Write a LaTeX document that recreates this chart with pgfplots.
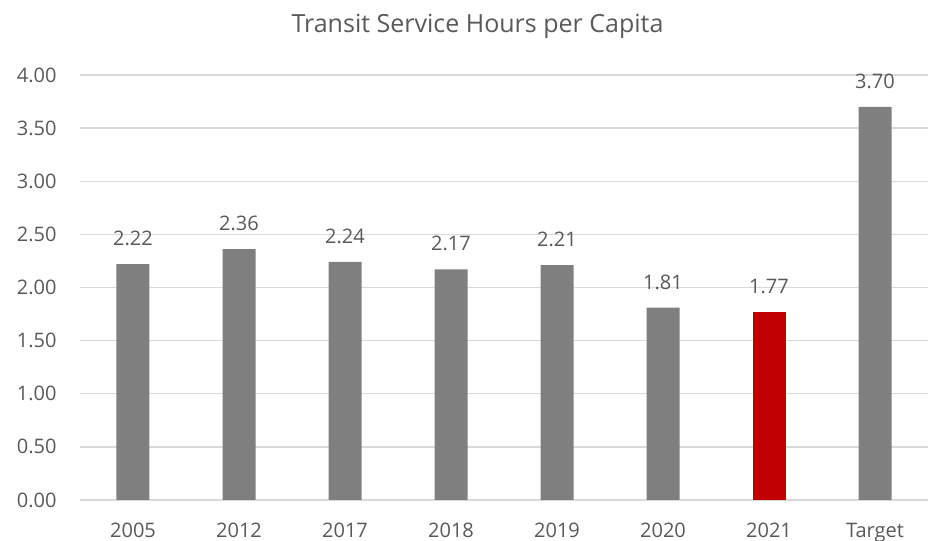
\documentclass[border=0pt]{standalone}
\usepackage{pgfplots}
\pgfplotsset{compat=1.18}
\usepackage{fontspec}
\setmainfont{Open Sans}
\definecolor{barg}{HTML}{7F7F7F}
\definecolor{barr}{HTML}{C00000}
\definecolor{gridc}{HTML}{D9D9D9}
\definecolor{txt}{HTML}{595959}
\begin{document}
\begin{tikzpicture}
\path[use as bounding box] (-80pt,-41pt) rectangle (850pt,500pt);
\begin{axis}[
  at={(0,0)}, anchor=south west,
  scale only axis, width=848pt, height=425pt,
  xmin=-0.5, xmax=7.5, ymin=0, ymax=4,
  axis line style={draw=none},
  ytick={0,0.5,...,4},
  xtick={0,...,7},
  xticklabels={2005,2012,2017,2018,2019,2020,2021,Target},
  major tick length=0pt,
  ymajorgrids, major grid style={gridc, line width=1.3pt},
  /pgf/number format/assume math mode=true,
  yticklabel={\pgfmathprintnumber[fixed,fixed zerofill,precision=2]{\tick}},
  ticklabel style={font=\fontsize{20}{24}\selectfont, text=txt},
  yticklabel style={anchor=east, xshift=-20pt},
  xticklabel style={anchor=north, text height=14pt, text depth=0pt, inner sep=0pt, yshift=-23pt},
  nodes near coords={\pgfmathprintnumber[fixed,fixed zerofill,precision=2]{\pgfplotspointmeta}},
  every node near coord/.append style={font=\fontsize{20}{24}\selectfont, text=txt, anchor=south, inner sep=0pt, yshift=18pt},
  bar width=33pt,
]
\addplot[ybar, bar shift=0pt, fill=barg, draw=none] coordinates {(0,2.22) (1,2.36) (2,2.24) (3,2.17) (4,2.21) (5,1.81) (7,3.70)};
\addplot[ybar, bar shift=0pt, fill=barr, draw=none] coordinates {(6,1.77)};
\end{axis}
\node[font=\fontsize{25}{30}\selectfont, text=txt, anchor=base, inner sep=0pt] at (397.5pt,467pt) {Transit Service Hours per Capita};
\end{tikzpicture}
\end{document}
